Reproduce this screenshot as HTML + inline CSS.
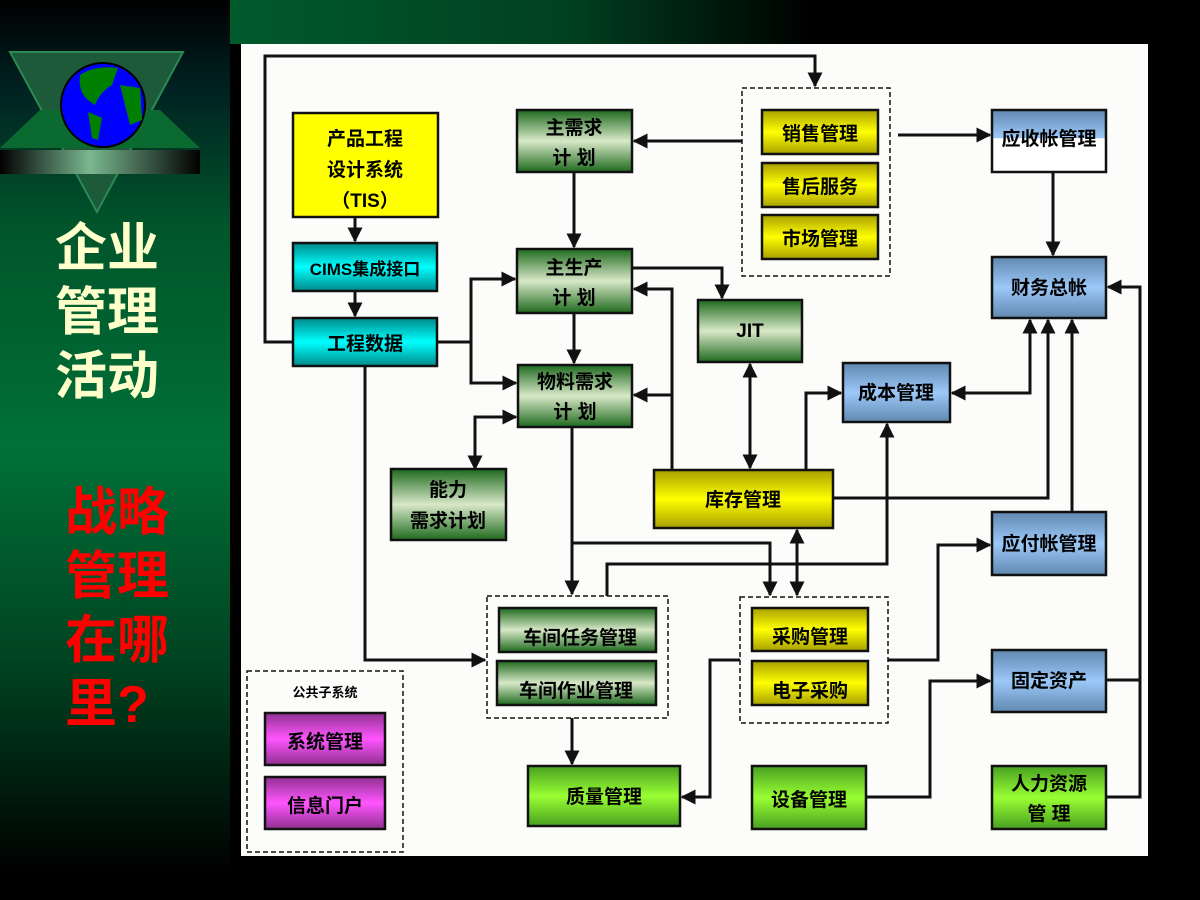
<!DOCTYPE html>
<html><head><meta charset="utf-8"><style>
html,body{margin:0;padding:0;width:1200px;height:900px;overflow:hidden;background:#000}
svg{display:block}
text{font-family:"Liberation Sans","Noto Sans CJK SC",sans-serif;font-weight:bold}
</style></head><body>
<svg width="1200" height="900" viewBox="0 0 1200 900" xmlns="http://www.w3.org/2000/svg">
<defs>
<linearGradient id="leftbg" x1="0" y1="0" x2="0" y2="1">
<stop offset="0" stop-color="#000"/><stop offset="0.1" stop-color="#022"/><stop offset="0.25" stop-color="#00552a"/><stop offset="0.5" stop-color="#007038"/><stop offset="0.75" stop-color="#00401f"/><stop offset="0.97" stop-color="#000"/></linearGradient>
<linearGradient id="topbg" x1="0" y1="0" x2="1" y2="0">
<stop offset="0" stop-color="#005a2c"/><stop offset="0.35" stop-color="#004020"/><stop offset="0.6" stop-color="#000"/></linearGradient>
<linearGradient id="bar" x1="0" y1="0" x2="1" y2="0">
<stop offset="0" stop-color="#000"/><stop offset="0.45" stop-color="#7ab890"/><stop offset="1" stop-color="#000"/></linearGradient>
<linearGradient id="gr" x1="0" y1="0" x2="0" y2="1">
<stop offset="0" stop-color="#1e6a1e"/><stop offset="0.5" stop-color="#d8e8c8"/><stop offset="1" stop-color="#1e6a1e"/></linearGradient>
<linearGradient id="bg2" x1="0" y1="0" x2="0" y2="1">
<stop offset="0" stop-color="#48a020"/><stop offset="0.5" stop-color="#99ff33"/><stop offset="1" stop-color="#48a020"/></linearGradient>
<linearGradient id="ye" x1="0" y1="0" x2="0" y2="1">
<stop offset="0" stop-color="#a8a000"/><stop offset="0.5" stop-color="#ffff00"/><stop offset="1" stop-color="#a8a000"/></linearGradient>
<linearGradient id="cy" x1="0" y1="0" x2="0" y2="1">
<stop offset="0" stop-color="#008a8a"/><stop offset="0.5" stop-color="#00ffff"/><stop offset="1" stop-color="#008a8a"/></linearGradient>
<linearGradient id="bl" x1="0" y1="0" x2="0" y2="1">
<stop offset="0" stop-color="#6088b0"/><stop offset="0.5" stop-color="#9cc8f8"/><stop offset="1" stop-color="#6088b0"/></linearGradient>
<linearGradient id="wb" x1="0" y1="0" x2="0" y2="1">
<stop offset="0" stop-color="#6088b0"/><stop offset="0.45" stop-color="#9cc8f8"/><stop offset="0.46" stop-color="#fff"/><stop offset="1" stop-color="#fff"/></linearGradient>
<linearGradient id="mg" x1="0" y1="0" x2="0" y2="1">
<stop offset="0" stop-color="#903090"/><stop offset="0.5" stop-color="#ff55ff"/><stop offset="1" stop-color="#903090"/></linearGradient>
<marker id="a" viewBox="0 0 10 10" refX="9" refY="5" markerWidth="5" markerHeight="5" orient="auto-start-reverse"><path d="M0,0L10,5L0,10z" fill="#111"/></marker>
</defs>
<rect width="1200" height="900" fill="#000"/>
<rect x="0" y="0" width="230" height="900" fill="url(#leftbg)"/>
<rect x="230" y="0" width="970" height="44" fill="url(#topbg)"/>
<!-- logo -->
<polygon points="10,52 183,52 97,212" fill="#1d5a3a" stroke="#2a8a55" stroke-width="2"/>
<polygon points="0,148 40,110 160,110 200,148" fill="#0a6a30"/>
<rect x="0" y="150" width="200" height="24" fill="url(#bar)"/>
<circle cx="103" cy="105" r="42" fill="#0000ff" stroke="#000" stroke-width="2"/>
<path d="M80,75 Q95,65 118,68 L112,85 Q100,92 95,105 L88,100 Q78,92 80,75z M88,112 L102,118 L98,140 L92,138z M120,85 L140,88 L142,120 L130,125 L125,105z" fill="#008000"/>
<text x="55" y="266" font-size="52" fill="#ffffcc">企业</text>
<text x="55" y="330" font-size="52" fill="#ffffcc">管理</text>
<text x="55" y="394" font-size="52" fill="#ffffcc">活动</text>
<text x="65" y="530" font-size="52" fill="#ff0000">战略</text>
<text x="65" y="594" font-size="52" fill="#ff0000">管理</text>
<text x="65" y="658" font-size="52" fill="#ff0000">在哪</text>
<text x="65" y="722" font-size="52" fill="#ff0000">里?</text>
<!-- panel -->
<rect x="241" y="44" width="907" height="812" fill="#fcfdfb"/>
<!-- dashed groups -->
<g fill="none" stroke="#111" stroke-width="1.5" stroke-dasharray="5,3">
<rect x="742" y="88" width="148" height="188"/>
<rect x="487" y="596" width="181" height="122"/>
<rect x="740" y="597" width="148" height="126"/>
<rect x="247" y="671" width="156" height="181"/>
</g>
<!-- connectors -->
<g fill="none" stroke="#111" stroke-width="3">
<path d="M293,342H265V56H815V86" marker-end="url(#a)"/>
<path d="M355,217V241" marker-end="url(#a)"/>
<path d="M355,291V316" marker-end="url(#a)"/>
<path d="M437,342H471V279H515" marker-end="url(#a)"/>
<path d="M471,342V383H516" marker-end="url(#a)"/>
<path d="M365,366V660H485" marker-end="url(#a)"/>
<path d="M742,141H634" marker-end="url(#a)"/>
<path d="M574,172V247" marker-end="url(#a)"/>
<path d="M574,313V363" marker-end="url(#a)"/>
<path d="M632,268H722V298" marker-end="url(#a)"/>
<path d="M672,470V289H634" marker-end="url(#a)"/>
<path d="M672,395H634" marker-end="url(#a)"/>
<path d="M475,469V417H516" marker-start="url(#a)" marker-end="url(#a)"/>
<path d="M750,364V468" marker-start="url(#a)" marker-end="url(#a)"/>
<path d="M806,470V393H841" marker-end="url(#a)"/>
<path d="M952,393H1030V320" marker-start="url(#a)" marker-end="url(#a)"/>
<path d="M833,498H1048V320" marker-end="url(#a)"/>
<path d="M1072,512V320" marker-end="url(#a)"/>
<path d="M1053,172V255" marker-end="url(#a)"/>
<path d="M898,135H990" marker-end="url(#a)"/>
<path d="M572,427V594" marker-end="url(#a)"/>
<path d="M572,543H770V595" marker-end="url(#a)"/>
<path d="M797,530V595" marker-start="url(#a)" marker-end="url(#a)"/>
<path d="M607,596V564H887V424" marker-end="url(#a)"/>
<path d="M572,718V764" marker-end="url(#a)"/>
<path d="M740,660H710V797H682" marker-end="url(#a)"/>
<path d="M888,660H938V545H990" marker-end="url(#a)"/>
<path d="M866,797H930V681H990" marker-end="url(#a)"/>
<path d="M1106,797H1140V287H1108" marker-end="url(#a)"/>
<path d="M1106,680H1140"/>
</g>
<!-- boxes -->
<g stroke="#111" stroke-width="2.5">
<rect x="293" y="113" width="145" height="104" fill="#ffff00"/>
<rect x="293" y="243" width="144" height="48" fill="url(#cy)"/>
<rect x="293" y="318" width="144" height="48" fill="url(#cy)"/>
<rect x="517" y="110" width="115" height="62" fill="url(#gr)"/>
<rect x="517" y="249" width="115" height="64" fill="url(#gr)"/>
<rect x="518" y="365" width="114" height="62" fill="url(#gr)"/>
<rect x="391" y="469" width="115" height="71" fill="url(#gr)"/>
<rect x="698" y="300" width="104" height="62" fill="url(#gr)"/>
<rect x="654" y="470" width="179" height="58" fill="url(#ye)"/>
<rect x="843" y="363" width="107" height="59" fill="url(#bl)"/>
<rect x="762" y="110" width="116" height="44" fill="url(#ye)"/>
<rect x="762" y="163" width="116" height="44" fill="url(#ye)"/>
<rect x="762" y="215" width="116" height="44" fill="url(#ye)"/>
<rect x="992" y="110" width="114" height="62" fill="url(#wb)"/>
<rect x="992" y="257" width="114" height="61" fill="url(#bl)"/>
<rect x="992" y="512" width="114" height="63" fill="url(#bl)"/>
<rect x="992" y="650" width="114" height="62" fill="url(#bl)"/>
<rect x="992" y="766" width="114" height="63" fill="url(#bg2)"/>
<rect x="499" y="608" width="157" height="44" fill="url(#gr)"/>
<rect x="497" y="661" width="159" height="44" fill="url(#gr)"/>
<rect x="752" y="608" width="116" height="43" fill="url(#ye)"/>
<rect x="752" y="661" width="116" height="44" fill="url(#ye)"/>
<rect x="528" y="766" width="152" height="60" fill="url(#bg2)"/>
<rect x="752" y="766" width="114" height="63" fill="url(#bg2)"/>
<rect x="265" y="713" width="120" height="52" fill="url(#mg)"/>
<rect x="265" y="777" width="120" height="52" fill="url(#mg)"/>
</g>
<g font-size="19" fill="#000" text-anchor="middle">
<text x="365" y="145">产品工程</text>
<text x="365" y="176">设计系统</text>
<text x="365" y="207">（TIS）</text>
<text x="365" y="275" font-size="17">CIMS集成接口</text>
<text x="365" y="350">工程数据</text>
<text x="574" y="134">主需求</text>
<text x="574" y="164">计  划</text>
<text x="574" y="274">主生产</text>
<text x="574" y="304">计  划</text>
<text x="575" y="388">物料需求</text>
<text x="575" y="418">计  划</text>
<text x="448" y="496">能力</text>
<text x="448" y="527">需求计划</text>
<text x="750" y="337">JIT</text>
<text x="743" y="506">库存管理</text>
<text x="896" y="399">成本管理</text>
<text x="820" y="140">销售管理</text>
<text x="820" y="193">售后服务</text>
<text x="820" y="245">市场管理</text>
<text x="1049" y="145">应收帐管理</text>
<text x="1049" y="294">财务总帐</text>
<text x="1049" y="550">应付帐管理</text>
<text x="1049" y="687">固定资产</text>
<text x="1049" y="790">人力资源</text>
<text x="1049" y="820">管  理</text>
<text x="580" y="644">车间任务管理</text>
<text x="576" y="697">车间作业管理</text>
<text x="810" y="643">采购管理</text>
<text x="810" y="697">电子采购</text>
<text x="604" y="803">质量管理</text>
<text x="809" y="806">设备管理</text>
<text x="325" y="748">系统管理</text>
<text x="325" y="812">信息门户</text>
<text x="325" y="697" font-size="13">公共子系统</text>
</g>
</svg>
</body></html>
